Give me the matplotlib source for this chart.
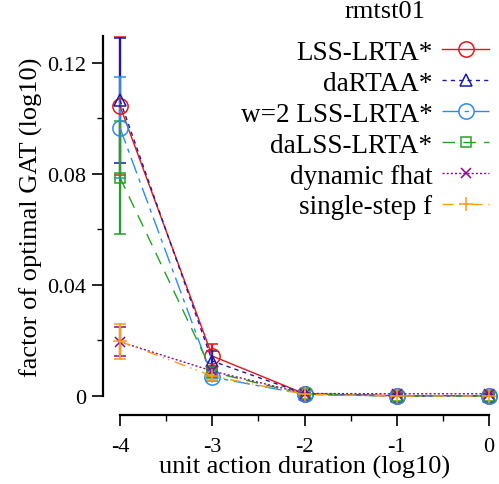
import numpy as np
import matplotlib.pyplot as plt
from matplotlib.lines import Line2D

# data
x = [-4, -3, -2, -1, 0]
labels = ['LSS-LRTA*', 'daRTAA*', 'w=2 LSS-LRTA*', 'daLSS-LRTA*', 'dynamic fhat', 'single-step f']
lss_lrta = [0.1045, 0.0144, 0.0008, 0.0001, 0.0001]
lss_lrta_err = [0.0248, 0.0045, 0.0003, 0.0001, 0.0001]
dartaa = [0.1065, 0.0126, 0.0008, 0.0, 0.0]
dartaa_err = [0.0225, 0.0035, 0.0003, 0.0001, 0.0001]
w2_lss = [0.0966, 0.0068, 0.0006, 0.0, 0.0]
w2_lss_err = [0.0182, 0.0015, 0.0002, 0.0001, 0.0001]
dalss = [0.0787, 0.0086, 0.0006, 0.0, 0.0]
dalss_err = [0.0205, 0.0020, 0.0002, 0.0001, 0.0001]
dyn_fhat = [0.0195, 0.0090, 0.0009, 0.0008, 0.0008]
dyn_fhat_err = [0.0052, 0.0018, 0.0003, 0.0003, 0.0003]
single_f = [0.0197, 0.0072, 0.0006, 0.0, 0.0]
single_f_err = [0.0063, 0.0015, 0.0002, 0.0001, 0.0001]

series = [lss_lrta, dartaa, w2_lss, dalss, dyn_fhat, single_f]
errors = [lss_lrta_err, dartaa_err, w2_lss_err, dalss_err, dyn_fhat_err, single_f_err]
colors = ['#e8141c', '#1a1aa8', '#2b8cf0', '#22a322', '#8b0a8b', '#ff9a1a']
markers = ['o', '^', 'o', 's', 'x', '+']
msizes = [11, 9, 11, 7.5, 7.5, 10]
dashes = ['-', (0, (3, 3)), (0, (12, 4, 3, 4)), (0, (9, 6)), (0, (1.5, 1.5)), (0, (8, 4, 1, 3, 1, 4))]

plt.rcParams['font.family'] = ['Liberation Serif', 'DejaVu Serif']
fs = 19
lfs = 19.5
tfs = 16

fig = plt.figure(figsize=(4.99, 4.85), dpi=100)
ax = fig.add_axes([120 / 499, 88 / 485, 369 / 499, 360 / 485])

handles = []
for y, e, c, m, ms, ls, lab in zip(series, errors, colors, markers, msizes, dashes, labels):
    ax.errorbar(x, y, yerr=e, color=c, ecolor=c, marker=m, ms=ms, mfc='none', mec=c,
                mew=1.1, lw=1.0, ls=ls, elinewidth=1.6, capsize=4, capthick=1.6,
                clip_on=False)
    handles.append(Line2D([], [], color=c, marker=m, ms=ms, mfc='none', mec=c,
                          mew=1.1, lw=1.0, ls=ls, label=lab))

ax.set_xlim(-4, 0)
ax.set_ylim(0, 0.1297)
ax.set_xticks([-4, -3, -2, -1, 0])
ax.set_xticks([-3.5, -2.5, -1.5, -0.5], minor=True)
ax.set_xticklabels(['-4', '-3', '-2', '-1', '0'])
ax.set_yticks([0, 0.04, 0.08, 0.12])
ax.set_yticks([0.02, 0.06, 0.10], minor=True)
ax.set_yticklabels(['0', '0.04', '0.08', '0.12'])

for side in ['top', 'right']:
    ax.spines[side].set_visible(False)
ax.spines['left'].set_position(('outward', 12.5))
ax.spines['bottom'].set_position(('outward', 13.5))
ax.spines['left'].set_linewidth(1.6)
ax.spines['bottom'].set_linewidth(1.6)
ax.tick_params(which='major', length=8, width=1.2, labelsize=tfs)
ax.tick_params(axis='x', which='major', pad=8)
ax.tick_params(axis='y', which='major', pad=4)
ax.tick_params(which='minor', length=4.5, width=1.0)

ax.set_xlabel('unit action duration (log10)', fontsize=fs, labelpad=-1)
ax.set_ylabel('factor of optimal GAT (log10)', fontsize=fs, labelpad=3)

fig.text(385 / 499, 1 - 12 / 485, 'rmtst01', fontsize=fs, ha='center', va='center')
leg = ax.legend(handles=handles, loc='upper right', bbox_to_anchor=(492 / 499, 1 - 38 / 485),
                bbox_transform=fig.transFigure, frameon=False, fontsize=lfs,
                markerfirst=False, handlelength=1.75, handletextpad=0.35,
                labelspacing=0.22, borderpad=0.1, borderaxespad=0)
for t in leg.get_texts():
    t.set_ha('right')

fig.savefig('out.png', dpi=100)
